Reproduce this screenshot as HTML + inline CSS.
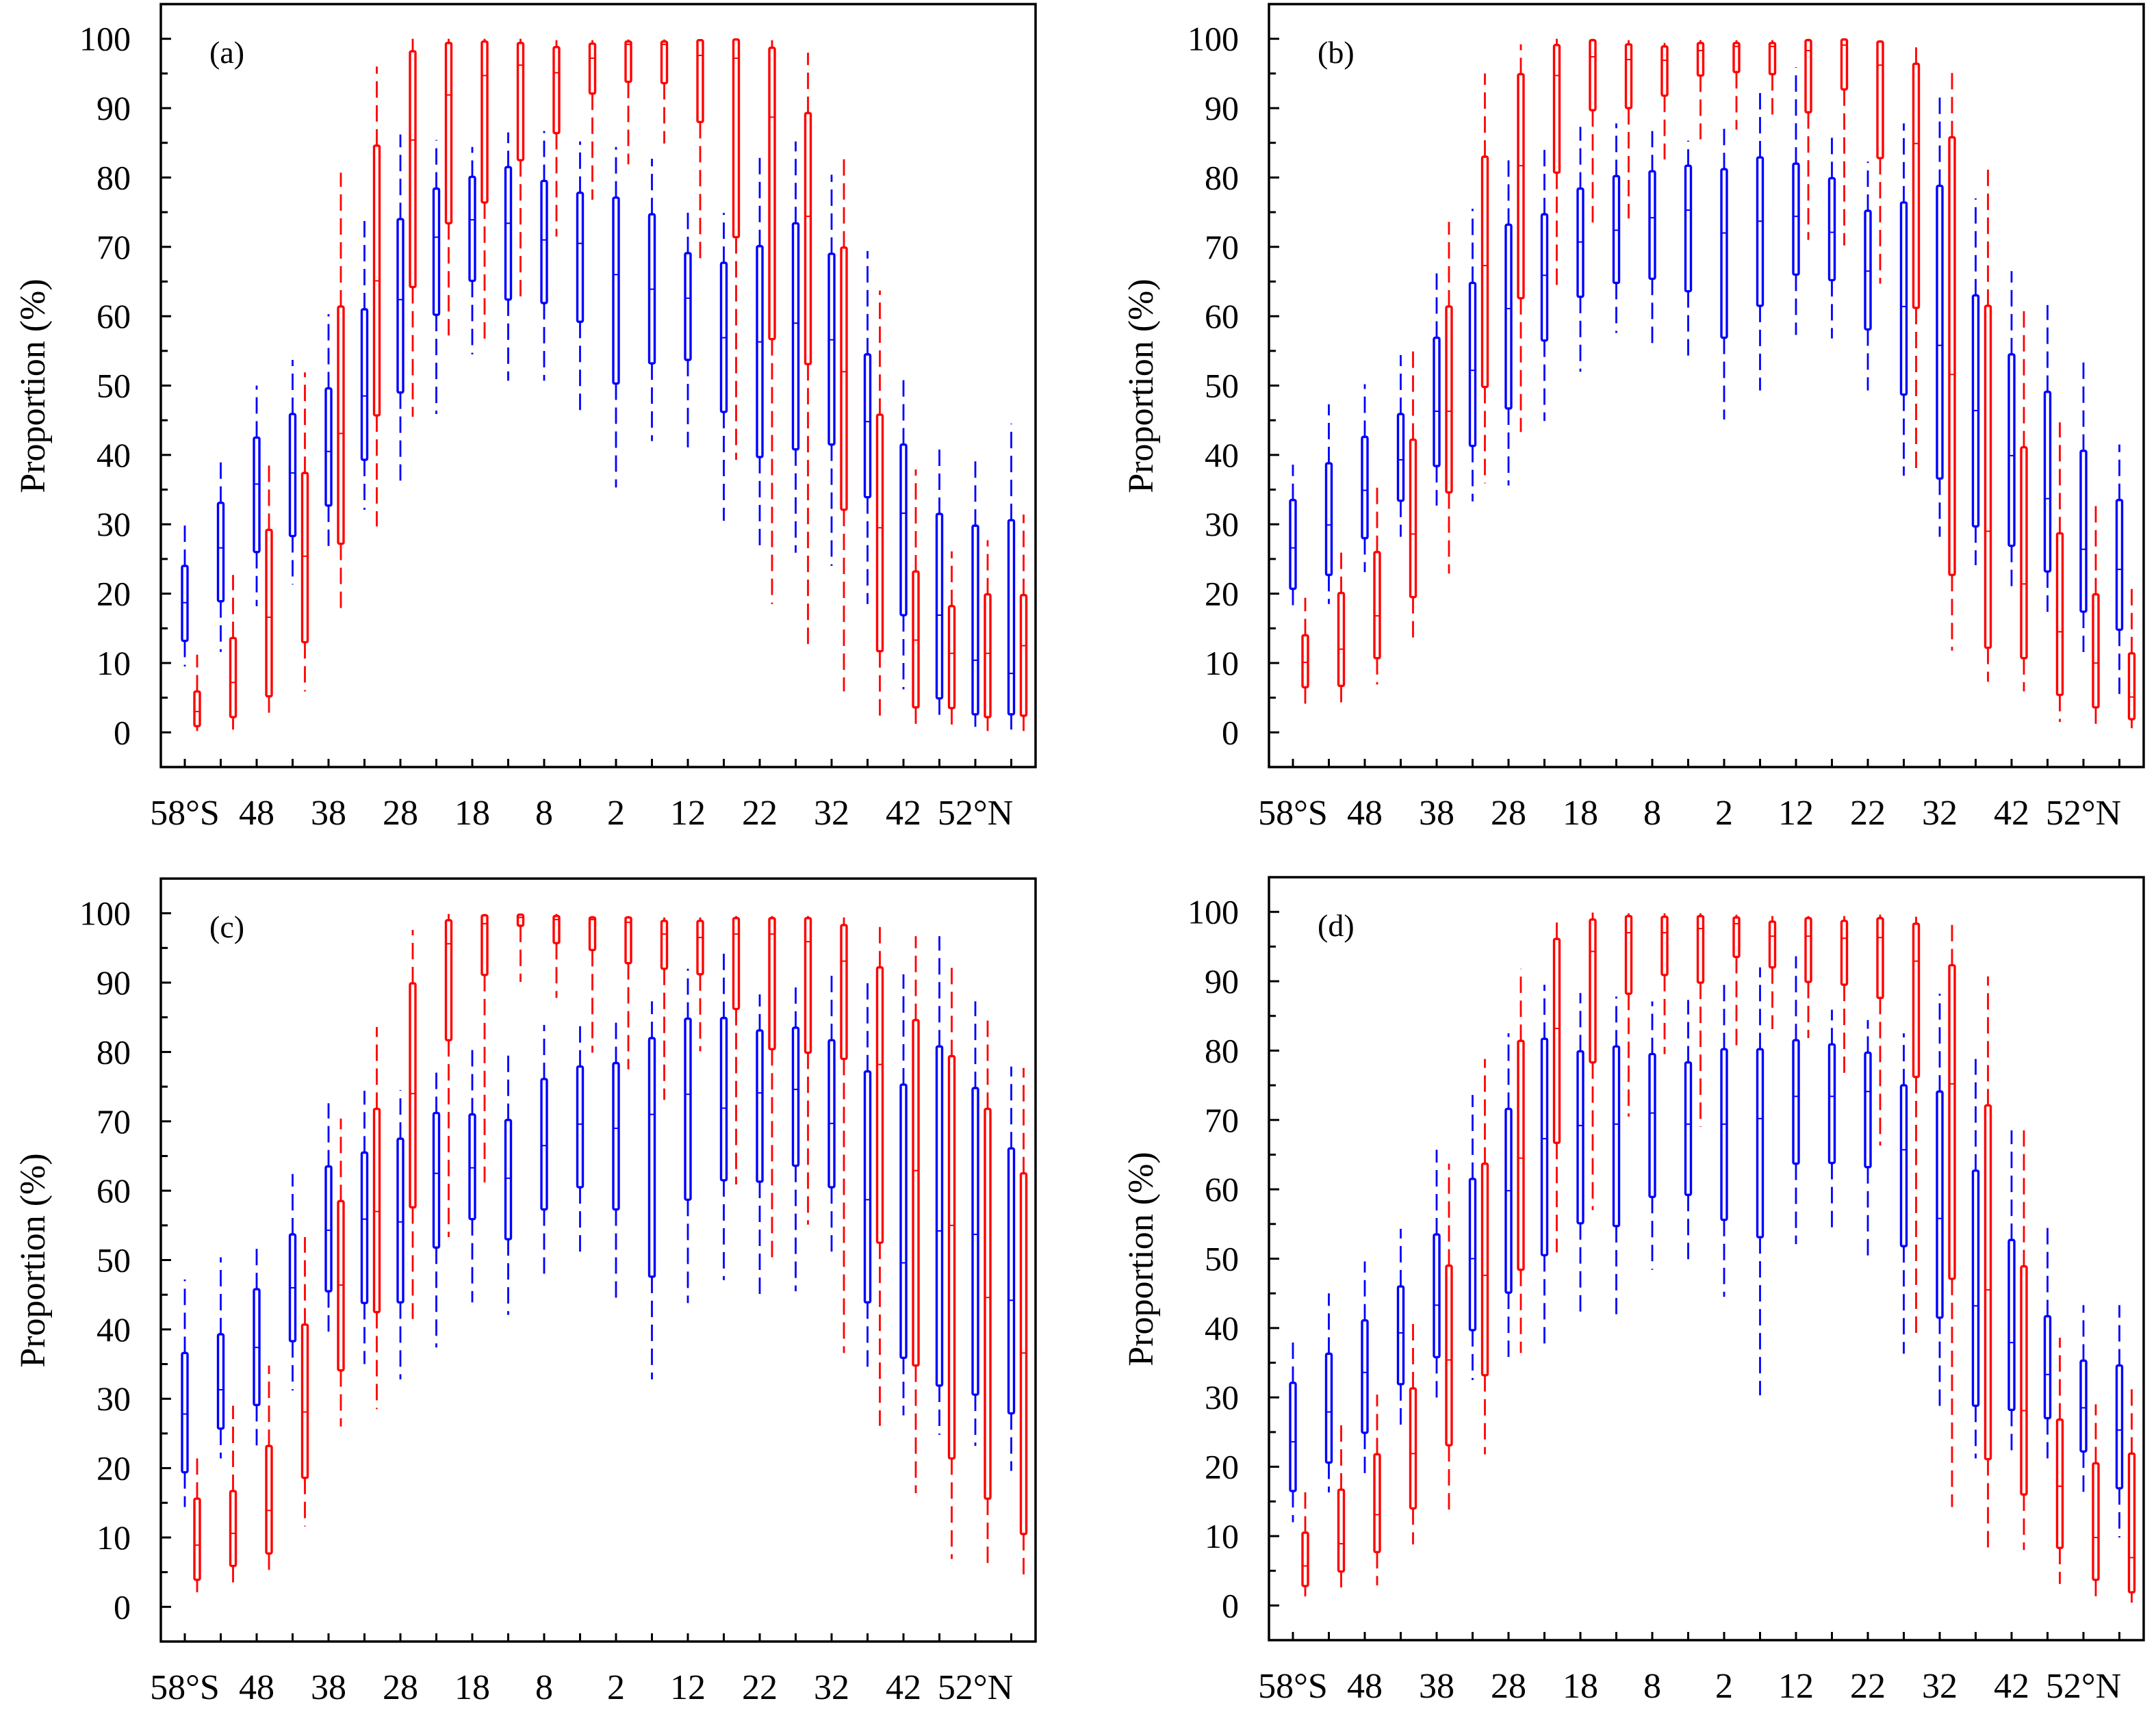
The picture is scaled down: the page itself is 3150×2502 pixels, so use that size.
<!DOCTYPE html>
<html>
<head>
<meta charset="utf-8">
<style>
  html, body { margin:0; padding:0; background:#fff; }
  svg { display:block; }
  text { font-family: "Liberation Serif", "DejaVu Serif", serif; fill:#000; }
</style>
</head>
<body>
<svg id="chart" width="3150" height="2502" viewBox="0 0 3150 2502" xmlns="http://www.w3.org/2000/svg">
</svg>
<script>
// Each box: [max, q3, median, q1, min] in percent
const categories = ['58°S','53°S','48°S','43°S','38°S','33°S','28°S','23°S','18°S','13°S','8°S','3°S','2°N','7°N','12°N','17°N','22°N','27°N','32°N','37°N','42°N','47°N','52°N','57°N'];
const tickLabels = ['58°S','48','38','28','18','8','2','12','22','32','42','52°N'];
const yTicks = [0,10,20,30,40,50,60,70,80,90,100];

const aBlue = [[30.5,24,18.7,13.2,9.5],[39.4,33.1,26.6,18.9,11.6],[50,42.5,35.8,26,18.2],[53.7,45.9,37.4,28.3,21.3],[60.3,49.6,40.5,32.7,26.2],[74.4,61,48.5,39.3,32.1],[86.2,74,62.4,49,36.3],[85.4,78.4,71.4,60.2,45.9],[84.4,80.1,73.9,65.1,54.5],[86.5,81.5,73.4,62.4,50.7],[86.7,79.5,71,61.9,50.7],[85.2,77.8,70.5,59.2,46.4],[84.4,77.1,66,50.3,35.3],[82.7,74.7,63.9,53.2,42],[75.2,69.1,62.6,53.7,41.1],[74.9,67.7,56.9,46.2,30.5],[83.9,70.1,56.3,39.7,26.6],[85.2,73.4,59,40.8,25.9],[80.4,69,56.6,41.5,24],[69.4,54.5,44.8,33.9,18.5],[50.8,41.5,31.6,16.9,6.2],[41.1,31.5,16.9,4.9,1.5],[39.1,29.8,10.4,2.6,0.8],[44.5,30.6,8.5,2.6,0.4]];
const aRed = [[11.2,5.9,3,0.9,0.2],[22.7,13.6,7.2,2.2,0.4],[38.8,29.2,16.6,5.2,1.8],[51.9,37.4,25.4,13,5.9],[80.7,61.4,43.1,27.2,17.2],[96,84.6,65.1,45.7,29.7],[100,98.2,85.4,64.2,45.5],[100,99.4,91.9,73.4,56.9],[100,99.6,94.7,76.4,56.1],[100,99.4,96.2,82.5,62.8],[99.8,98.8,95.1,86.4,71.5],[99.8,99.3,97.2,92.1,76.8],[99.9,99.6,99.2,93.8,81.9],[99.9,99.6,99.2,93.6,84.9],[99.9,99.8,97.6,88,68.3],[100,99.9,97.2,71.4,39.3],[99.8,98.7,88.7,56.7,18.5],[98,89.3,74.4,53.1,12.7],[83.3,69.9,52,32.1,5.9],[63.7,45.8,29.5,11.7,2.4],[37.9,23.2,13.3,3.6,0.6],[26.1,18.2,11.4,3.5,0.6],[27.7,19.9,11.4,2.2,0.2],[31.4,19.8,12.5,2.4,0.2]];

const bBlue = [[38.6,33.5,26.6,20.7,17.7],[47.3,38.8,29.9,22.7,18.5],[50.2,42.6,34.9,28,23.1],[54.4,45.9,39.3,33.4,28.2],[67.1,56.9,46.3,38.4,32.7],[75.5,64.8,52.2,41.3,33.3],[82.8,73.2,61.1,46.7,35.6],[84,74.7,65.9,56.5,44.9],[87.3,78.4,70.7,62.8,52],[87.8,80.2,72.4,64.8,57.6],[86.7,80.9,74.2,65.4,56.1],[85.3,81.7,75.3,63.6,53.3],[87.3,81.2,72,56.9,45.1],[93,82.9,73.7,61.5,49.3],[95.9,82,74.4,66,57.3],[86.5,79.9,72.1,65.2,56.8],[82.3,75.2,66.5,58.1,49.3],[87.8,76.4,61.4,48.7,37],[91.6,78.8,55.8,36.6,28.2],[77,63,46.4,29.7,24.1],[66.5,54.5,39.9,26.9,20.7],[61.6,49.1,33.7,23.2,17.1],[53.7,40.6,26.4,17.4,10.7],[41.5,33.5,23.5,14.8,5.1]];
const bRed = [[19.4,14,10.1,6.5,3.4],[26.4,20.1,12,6.7,3.6],[35.9,26,16.8,10.7,6.9],[55.3,42.2,28.6,19.5,13.1],[73.6,61.4,46.3,34.6,22.9],[95,83,67.3,49.8,35.9],[99.2,94.9,81.7,62.6,43.3],[100,99.1,94.7,80.7,64.4],[100,99.8,97.4,89.7,72.9],[99.8,99.2,97,90,74.1],[99.4,98.9,96.9,91.8,82.6],[99.8,99.4,98.3,94.7,85.5],[99.8,99.4,98.9,95.2,86.9],[99.8,99.4,98.9,94.9,88.4],[100,99.8,98.3,89.4,71],[100,99.9,99.1,92.7,70.2],[99.8,99.6,96.2,82.8,64.7],[99.2,96.4,84.9,61.2,37.4],[95.8,85.8,51.6,22.7,11.8],[81.5,61.5,29,12.2,7.3],[61.4,41.1,21.4,10.7,5.9],[44.7,28.7,14.5,5.4,1.5],[33.5,19.9,10,3.6,0.8],[21.4,11.4,5.1,1.9,0.6]];

const cBlue = [[47.2,36.6,27.8,19.4,14.4],[50.4,39.3,31.3,25.7,21.4],[52.7,45.8,37.4,29.1,22.4],[62.4,53.7,46,38.3,31.2],[72.6,63.5,54.3,45.5,38.6],[74.4,65.5,55.9,43.8,35],[74.5,67.5,55.5,43.9,32.8],[77.3,71.2,62.5,51.8,37.4],[80.6,71,63.3,55.9,43.9],[80,70.2,61.8,53,42.1],[83.9,76.1,66.5,57.3,47.1],[84,77.9,69.6,60.5,50.7],[85.1,78.4,69,57.3,43.8],[87.3,82,71,47.6,32.8],[92,84.8,73.9,58.7,43.8],[95.2,84.9,71.9,61.5,47.1],[88.3,83.1,74.1,61.3,44.9],[89.3,83.5,74.6,63.6,45.5],[91.7,81.7,69.7,60.5,50.2],[89.9,77.2,58.7,43.9,33.7],[91.2,75.3,49.6,35.9,27.6],[96.7,80.8,54.2,31.9,24.8],[87.3,74.8,53.7,30.6,23.2],[77.9,66.1,44.2,27.9,19.6]];
const cRed = [[21.4,15.6,8.9,3.9,2.1],[29,16.7,10.6,5.9,3.3],[34.8,23.2,13.9,7.7,4.5],[53.3,40.7,28.1,18.6,11.6],[70.4,58.5,46.4,34.1,26],[83.6,71.8,57,42.5,28.5],[97.6,89.9,74,57.6,41.5],[99.9,99,95.6,81.7,53.3],[99.9,99.7,98.5,91.1,61.2],[99.9,99.8,99.4,98.2,90.1],[99.9,99.6,99.1,95.7,87.8],[99.6,99.4,99.1,94.7,79.9],[99.6,99.4,98.7,92.8,77.5],[99.4,98.9,97,92,73.1],[99.4,98.9,96.5,91.2,80.1],[99.6,99.3,97,86.2,60.9],[99.6,99.3,97,80.4,49.8],[99.6,99.3,95.9,79.9,55.1],[99.4,98.3,93.1,79,36.6],[98.7,92.2,78.2,52.5,26.1],[96.7,84.6,62.9,34.8,16.4],[92.4,79.4,55,21.4,6.9],[84.8,71.8,44.6,15.6,5.8],[77.7,62.5,36.6,10.5,3.6]];

const dBlue = [[38.9,32.1,23.6,16.5,12],[45,36.3,27.9,20.6,16.3],[49.6,41.1,33.6,24.9,18.5],[54.3,46,39.3,31.9,25.4],[65.7,53.5,43.3,35.8,29.1],[73.6,61.5,50,39.7,32.5],[82.5,71.6,59.8,45.1,35.4],[89.5,81.7,67.3,50.5,37],[88.3,79.9,69.2,55.1,41.7],[87.8,80.6,69.4,54.7,42],[87.1,79.5,71,58.9,48.4],[87.3,78.3,69.4,59.2,49.5],[90,80.2,69.4,55.6,44.5],[92,80.2,70.2,53.1,30.3],[93.6,81.5,73.4,63.7,52.1],[85.9,80.9,73.4,63.8,54.3],[84.4,79.7,74.1,63.2,49.7],[82.5,75,65.7,51.8,36.3],[88.2,74.1,55.8,41.5,28.6],[78.8,62.7,43.2,28.8,21.2],[68.5,52.7,37.9,28.2,21.8],[54.5,41.7,33.3,27,21.2],[43.3,35.3,28.5,22.2,15.6],[43.3,34.6,25.3,16.9,9.8]];
const dRed = [[17.3,10.5,5.7,2.8,1.3],[26,16.7,8.9,4.9,2.6],[30.4,21.8,13.1,7.7,2.9],[40.7,31.3,21.9,14,8.8],[63.7,49,35.4,23.1,13.5],[78.8,63.7,47.6,33.2,21.8],[91.8,81.4,64.5,48.4,36.4],[99.5,96.1,83.2,66.7,50.9],[99.9,98.9,94.3,78.3,57],[99.8,99.4,97,88.2,70.5],[99.8,99.3,97,90.9,79.5],[99.8,99.4,97.6,89.8,69],[99.6,99.2,98.3,93.5,80.1],[99.4,98.6,96.5,92,83.1],[99.4,99.1,96.5,89.9,81.8],[99.4,98.7,96.2,89.5,76.8],[99.6,99.1,96.3,87.6,66.3],[99.3,98.3,92.9,76.2,39.3],[98.3,92.3,75.2,47.1,14.2],[90.7,72.1,45.5,21.1,8],[68.5,48.9,28.1,16,8],[38.6,26.8,17.2,8.3,3.1],[29,20.5,9.8,3.7,1.2],[31.7,21.9,6.9,1.9,0.4]];

const panels = [
  {name:'panel-a', label:'(a)', left:235, top:6, blue:aBlue, red:aRed},
  {name:'panel-b', label:'(b)', left:1854, top:6, blue:bBlue, red:bRed},
  {name:'panel-c', label:'(c)', left:235, top:1284, blue:cBlue, red:cRed},
  {name:'panel-d', label:'(d)', left:1854, top:1282, blue:dBlue, red:dRed}
];

const NS = 'http://www.w3.org/2000/svg';
const svg = document.getElementById('chart');
function mk(tag, attrs, parent) {
  const e = document.createElementNS(NS, tag);
  for (const k in attrs) e.setAttribute(k, attrs[k]);
  (parent || svg).appendChild(e);
  return e;
}

const W = 1278, H = 1115, PAD = 35, STEP = 52.5, RED_OFF = 18;
const YMIN = -5, YMAX = 105;

panels.forEach(p => {
  const g = mk('g', {});
  
  
  const xs = i => p.left + PAD + i * STEP;
  const ys = v => p.top + (YMAX - v) / (YMAX - YMIN) * H;
  const bottom = p.top + H;

  for (let v = 0; v <= 100; v += 5) {
    const major = v % 10 === 0;
    const t = mk('line', {x1:p.left, x2:p.left + (major ? 15 : 10), y1:ys(v), y2:ys(v), stroke:'#000', 'stroke-width':3}, g);
    
    
  }
  yTicks.forEach(v => {
    const t = mk('text', {x:p.left - 44, y:ys(v) + 17, 'text-anchor':'end', 'font-size':50}, g);
    t.textContent = v;
    
    
  });
  categories.forEach((c, i) => {
    const t = mk('line', {x1:xs(i), x2:xs(i), y1:bottom, y2:bottom - 12, stroke:'#000', 'stroke-width':3}, g);
    
    
  });
  tickLabels.forEach((lab, k) => {
    const t = mk('text', {x:xs(k * 2), y:bottom + 84, 'text-anchor':'middle', 'font-size':52}, g);
    t.textContent = lab;
    
    
  });
  const ty = mk('text', {x:0, y:0, 'text-anchor':'middle', 'font-size':52,
    transform:'translate(' + (p.left - 170) + ',' + (p.top + 558) + ') rotate(-90)'}, g);
  ty.textContent = 'Proportion (%)';
  
  
  const pl = mk('text', {x:p.left + 71, y:p.top + 86, 'font-size':46}, g);
  pl.textContent = p.label;
  
  

  [['blue', p.blue, '#0000ff', 0], ['red', p.red, '#ff0000', RED_OFF]].forEach(([sname, arr, col, off]) => {
    arr.forEach((b, i) => {
      const cx = xs(i) + off;
      const [mx, q3, md, q1, mn] = b;
      const bg = mk('g', {}, g);
      
      
      if (mx > q3) {
        const w1 = mk('line', {x1:cx, x2:cx, y1:ys(q3), y2:ys(mx), stroke:col, 'stroke-width':2.8, 'stroke-dasharray':'24 11'}, bg);
        
        
      }
      if (q1 > mn) {
        const w2 = mk('line', {x1:cx, x2:cx, y1:ys(q1), y2:ys(mn), stroke:col, 'stroke-width':2.8, 'stroke-dasharray':'24 11'}, bg);
        
        
      }
      const r = mk('rect', {x:cx - 4, y:ys(q3), width:8, height:Math.max(ys(q1) - ys(q3), 1), rx:2, fill:'#fff', stroke:col, 'stroke-width':3.4}, bg);
      
      
      const m = mk('line', {x1:cx - 4, x2:cx + 4, y1:ys(md), y2:ys(md), stroke:col, 'stroke-width':2}, bg);
      
      
    });
  });

  const fr = mk('rect', {x:p.left, y:p.top, width:W, height:H, fill:'none', stroke:'#000', 'stroke-width':3.5}, g);
  
  
});
</script>
</body>
</html>
